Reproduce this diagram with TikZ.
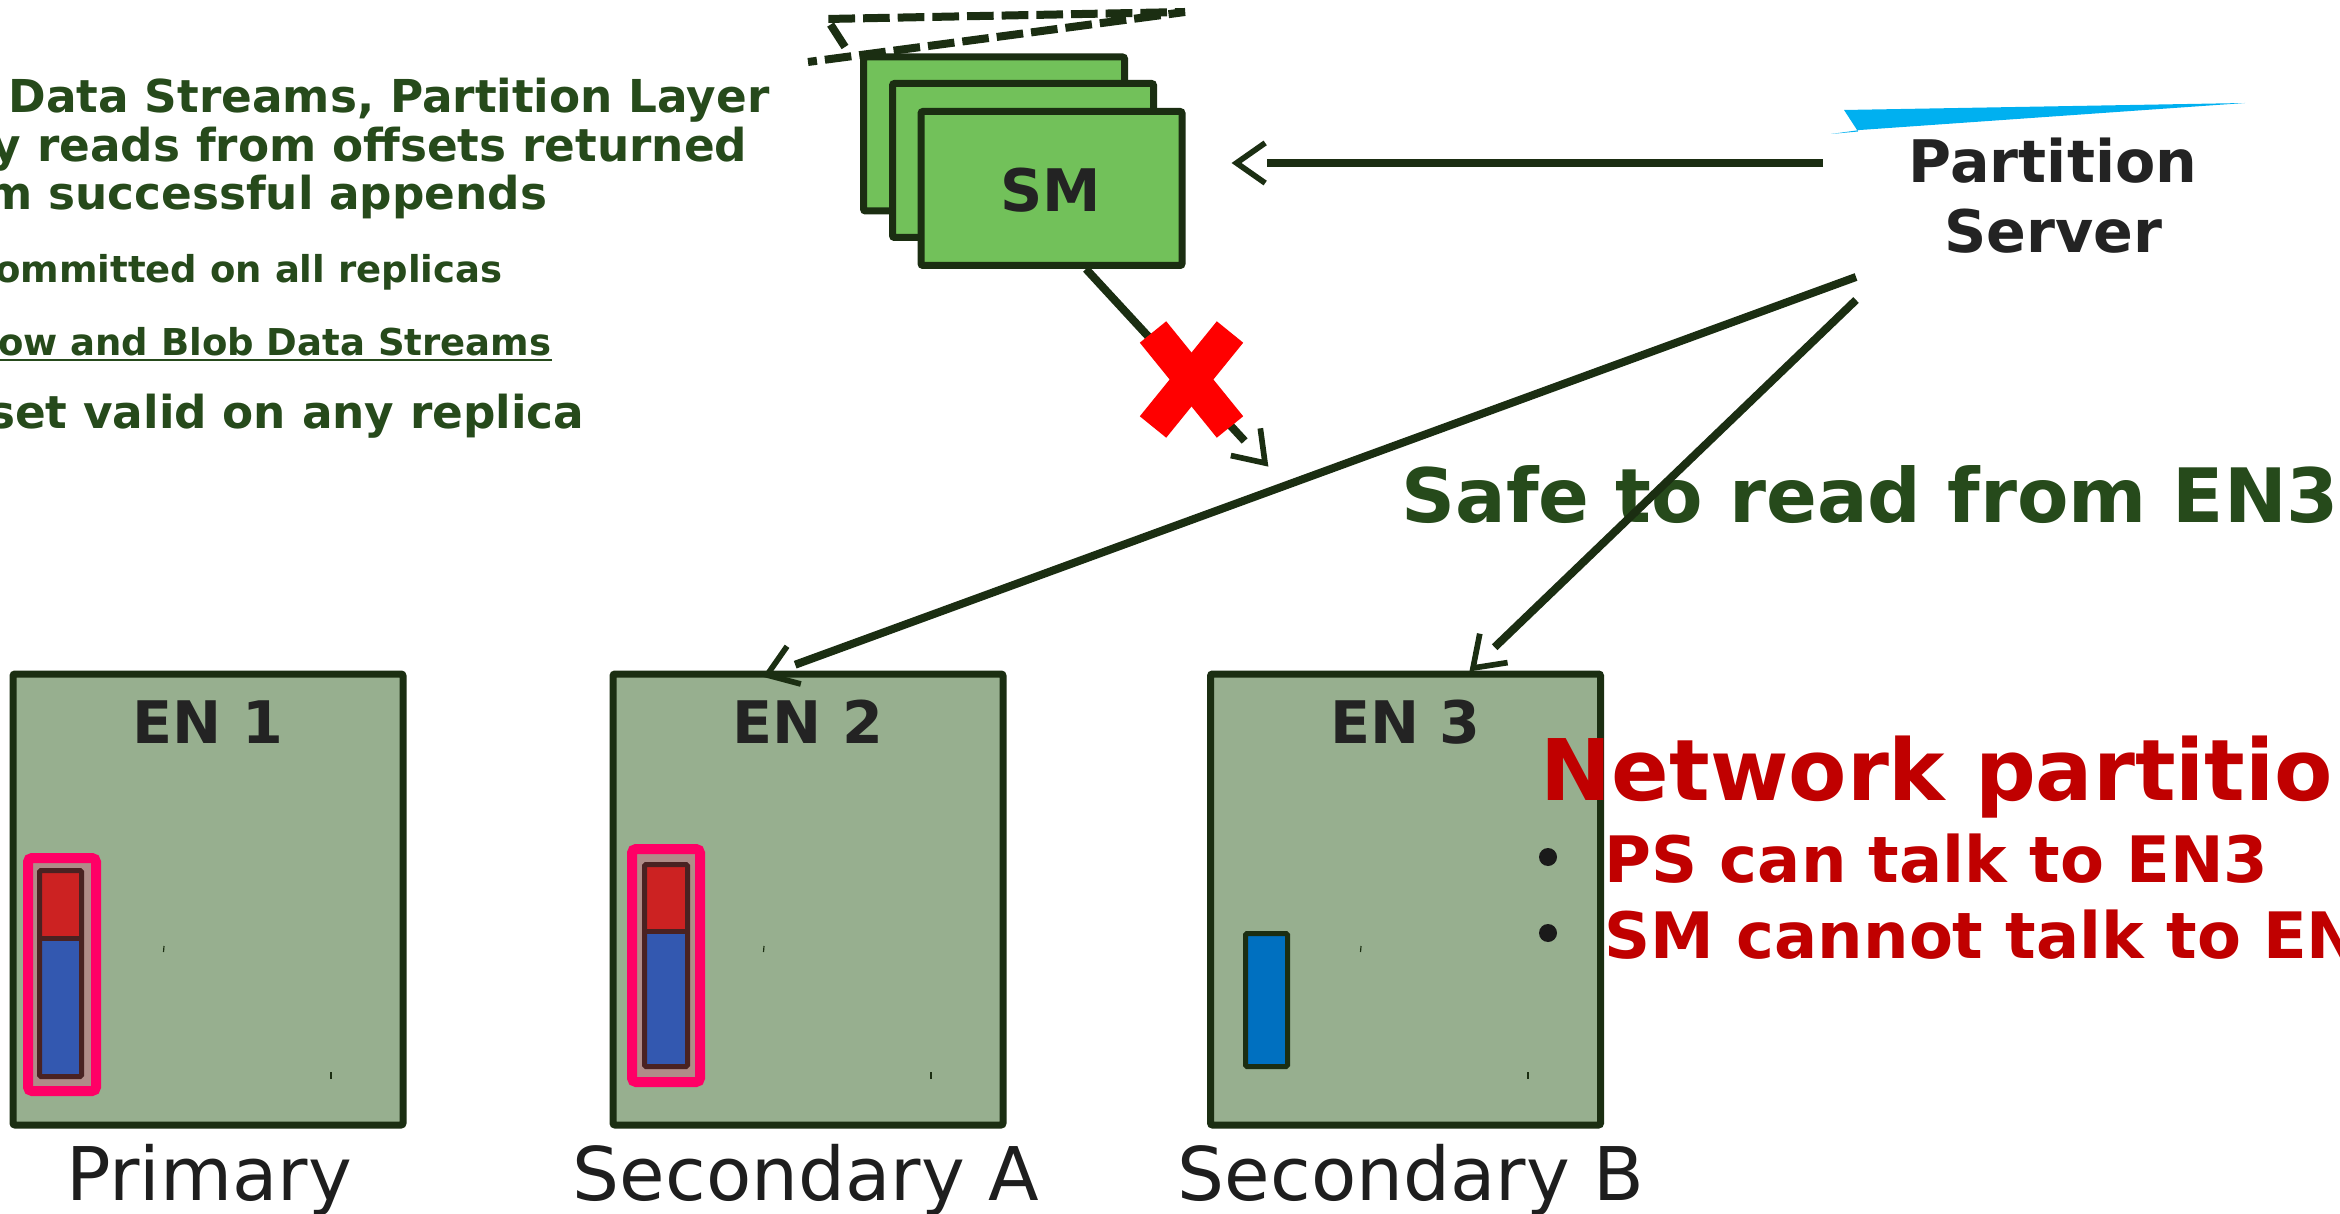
\documentclass[tikz,border=0pt]{standalone}
\usepackage{fontspec}
\setmainfont{DejaVu Sans}
\usetikzlibrary{calc}
\definecolor{boxline}{HTML}{1B2E12}
\definecolor{enfill}{HTML}{97AF8F}
\definecolor{smfill}{HTML}{72C15A}
\definecolor{labeltext}{HTML}{232323}
\definecolor{roletext}{HTML}{1E1E1E}
\definecolor{greentext}{HTML}{264A1B}
\definecolor{redtext}{HTML}{C00000}
\definecolor{pinkline}{HTML}{FF0066}
\definecolor{pinkfill}{HTML}{B08C88}
\definecolor{barline}{HTML}{4A2222}
\definecolor{barred}{HTML}{CC2222}
\definecolor{barblue}{HTML}{3358B0}
\definecolor{enblue}{HTML}{0070C0}
\definecolor{xred}{HTML}{FF0000}
\definecolor{sliverblue}{HTML}{00B0F0}
\definecolor{bulletcol}{HTML}{1A1A1A}
\newcommand\openarrow[2]{%
  \draw[shaft] (#1) -- ($(#2)!9pt!(#1)$);
  \draw[barbhead] ($(#2)!10.5pt!35:(#1)$) -- (#2) -- ($(#2)!10.5pt!-35:(#1)$);}
\begin{document}
\begin{tikzpicture}[x=0.3pt,y=-0.3pt,
  enbox/.style={draw=boxline, fill=enfill, line width=2.1pt, rounded corners=0.6pt,
    minimum width=117pt, minimum height=135.3pt, inner sep=0},
  smbox/.style={draw=boxline, fill=smfill, line width=2.1pt, rounded corners=0.6pt,
    minimum width=78.3pt, minimum height=46.2pt, inner sep=0},
  lbl/.style={inner sep=0, text=labeltext, font=\fontsize{17.6pt}{20pt}\selectfont\bfseries},
  rolelbl/.style={inner sep=0, text=roletext, font=\fontsize{22.2pt}{26pt}\selectfont},
  bigleft/.style={inner sep=0, text=greentext, font=\fontsize{13.6pt}{16pt}\selectfont\bfseries},
  smallleft/.style={inner sep=0, text=greentext, font=\fontsize{11.1pt}{13pt}\selectfont\bfseries},
  safetext/.style={inner sep=0, text=greentext, font=\fontsize{22.5pt}{26pt}\selectfont\bfseries},
  nettitle/.style={inner sep=0, text=redtext, font=\fontsize{25.5pt}{30pt}\selectfont\bfseries},
  netitem/.style={inner sep=0, text=redtext, font=\fontsize{19.2pt}{23pt}\selectfont\bfseries},
  bulletdot/.style={circle, fill=bulletcol, inner sep=0, minimum size=5.4pt},
  pinkbox/.style={draw=pinkline, fill=pinkfill, line width=3pt, rounded corners=1.2pt},
  barframe/.style={draw=barline, line width=1.5pt, rounded corners=0.4pt},
  shaft/.style={draw=boxline, line width=2.4pt},
  barbhead/.style={draw=boxline, line width=1.7pt, line join=miter},
  dashline/.style={draw=boxline, line width=2.4pt, dash pattern=on 8pt off 2.4pt},
  xbar/.style={draw=xred, line width=10.2pt, line cap=butt},
  tickmark/.style={draw=boxline, line width=0.35pt}
]
\useasboundingbox (0,0) rectangle (2340,1214);
\fill[white] (0,0) rectangle (2340,1214);

% left text block (clipped at the left edge)
\node[bigleft, anchor=base east] (l1) at (770,113) {Data Streams, Partition Layer};
\node[bigleft, anchor=base east] (l2) at (748,162) {y reads from offsets returned};
\node[bigleft, anchor=base east] (l3) at (548,210) {m successful appends};
\node[smallleft, anchor=base east] (l4) at (503,283) {ommitted on all replicas};
\node[smallleft, anchor=base east] (l5) at (552,356) {ow and Blob Data Streams};
\draw[greentext, line width=0.6pt] ($(l5.base east)+(0,4)$) -- (0,360);
\node[bigleft, anchor=base east] (l6) at (585,429) {set valid on any replica};

% dashed shape at the top
\draw[dashline] (845,47) -- (827,19) -- (1185,12) -- (808,62);

% SM stack
\node[smbox] (smback) at (994,134) {};
\node[smbox] (smmid) at (1023,160.5) {};
\node[smbox] (sm) at (1051.5,188.5) {};
\node[lbl, anchor=base] (smlbl) at (1051,212) {SM};

% Partition server
\fill[sliverblue] (1844,110) -- (2245,103) -- (1860,130) -- (1831,134) -- (1858,131.5) -- cycle;
\node[lbl, anchor=base] (pstop) at (2053,183) {Partition};
\node[lbl, anchor=base] (psbot) at (2053,253) {Server};

% extent nodes
\node[enbox] (en1) at (208,899.5) {};
\node[enbox] (en2) at (808,899.5) {};
\node[enbox] (en3) at (1405.5,899.5) {};
\node[lbl, anchor=base] (en1lbl) at (208,743) {EN 1};
\node[lbl, anchor=base] (en2lbl) at (808,743) {EN 2};
\node[lbl, anchor=base] (en3lbl) at (1405.5,743) {EN 3};

% EN1 contents
\draw[pinkbox] (28,858) rectangle (96,1091);
\fill[barred] (39.5,870.5) rectangle (81.5,938);
\fill[barblue] (39.5,938) rectangle (81.5,1076.5);
\draw[barframe] (39.5,870.5) rectangle (81.5,1076.5);
\draw[barline, line width=1.5pt] (39.5,938) -- (81.5,938);
% EN2 contents
\draw[pinkbox] (632,849) rectangle (700,1082);
\fill[barred] (644.5,864.5) rectangle (687.5,931);
\fill[barblue] (644.5,931) rectangle (687.5,1066.5);
\draw[barframe] (644.5,864.5) rectangle (687.5,1066.5);
\draw[barline, line width=1.5pt] (644.5,931) -- (687.5,931);
% EN3 contents
\draw[draw=boxline, fill=enblue, line width=1.5pt, rounded corners=0.4pt] (1245.5,933.5) rectangle (1287.5,1066.5);

% tiny marks
\foreach \dx in {0,600,1197}{
  \draw[tickmark] (164+\dx,946) -- (163.5+\dx,952);
  \draw[tickmark] (331+\dx,1072) -- (331+\dx,1079);
}

% role labels
\node[rolelbl, anchor=base] (prim) at (209,1200) {Primary};
\node[rolelbl, anchor=base] (seca) at (806,1200) {Secondary A};
\node[rolelbl, anchor=base] (secb) at (1411,1200) {Secondary B};

% right-hand texts
\node[safetext, anchor=base west] (safe) at (1401,523) {Safe to read from EN3};
\node[nettitle, anchor=base west] (net) at (1540,800) {Network partition};
\node[bulletdot] (b1) at (1548,857) {};
\node[bulletdot] (b2) at (1548,933) {};
\node[netitem, anchor=base west] (n1) at (1604,882) {PS can talk to EN3};
\node[netitem, anchor=base west] (n2) at (1604,958) {SM cannot talk to EN3};

% connectors
\coordinate (psW) at ($(pstop.base west)+(-85,-20)$);
\coordinate (smE) at ($(sm.east)+(51,-25.5)$);
\openarrow{psW}{smE}
\coordinate (psA) at (1856,277);
\coordinate (en2tip) at ($(en2.north)+(-41,4.5)$);
\openarrow{psA}{en2tip}
\coordinate (psB) at (1856,300);
\coordinate (en3tip) at ($(en3.north)+(67.5,-2.5)$);
\openarrow{psB}{en3tip}
\coordinate (smS) at ($(sm.south)+(34.5,0)$);
\coordinate (smtip) at (1265,463);
\openarrow{smS}{smtip}

% red cross
\draw[xbar] (1153,332) -- (1230,427);
\draw[xbar] (1230,332) -- (1153,427);
\end{tikzpicture}
\end{document}
